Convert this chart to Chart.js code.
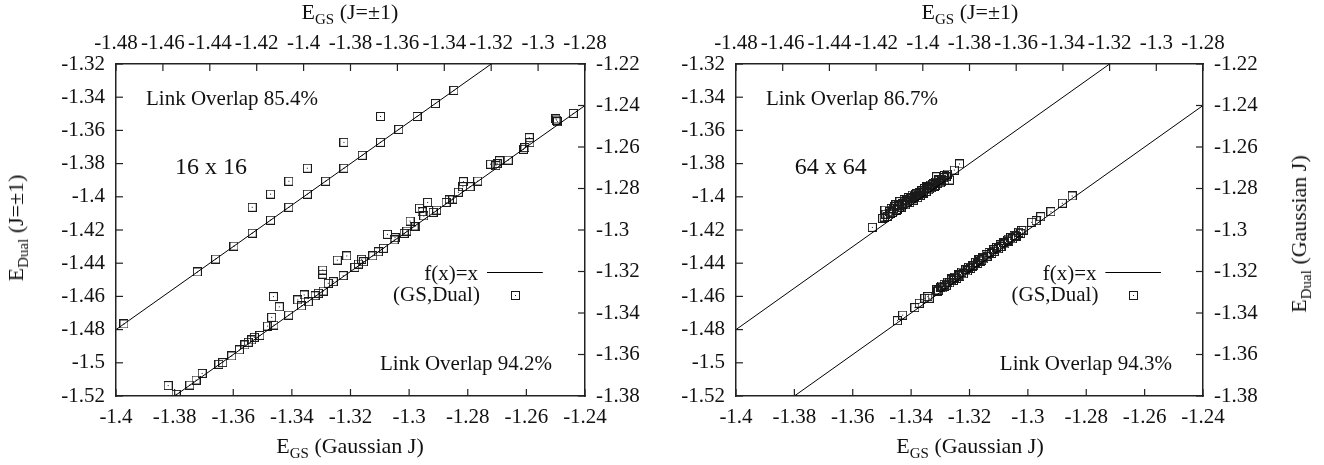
<!DOCTYPE html>
<html>
<head>
<meta charset="utf-8">
<script src="https://cdn.jsdelivr.net/npm/chart.js@4.4.0/dist/chart.umd.min.js"></script>
<style>
  body { margin: 0; background: #fff; }
  #wrap { position: relative; width: 1324px; height: 465px; font-family: "Liberation Serif", serif; color: #111; overflow: hidden; }
  canvas { position: absolute; top: 0; }
  .ttl { position: absolute; font-size: 22px; line-height: 22px; white-space: nowrap; }
  .ttl sub { font-size: 15px; line-height: 0; vertical-align: -5px; }
</style>
</head>
<body>
<div id="wrap">
  <canvas id="chart16" width="662" height="465" style="left:0"></canvas>
  <canvas id="chart64" width="662" height="465" style="left:662px"></canvas>

  <div class="ttl" style="left:350px;top:1px;transform:translateX(-50%)">E<sub>GS</sub> (J=±1)</div>
  <div class="ttl" style="left:350px;top:435px;transform:translateX(-50%)">E<sub>GS</sub> (Gaussian J)</div>
  <div class="ttl" style="left:16px;top:228px;transform:translate(-50%,-50%) rotate(-90deg)">E<sub>Dual</sub> (J=±1)</div>

  <div class="ttl" style="left:970px;top:1px;transform:translateX(-50%)">E<sub>GS</sub> (J=±1)</div>
  <div class="ttl" style="left:970px;top:435px;transform:translateX(-50%)">E<sub>GS</sub> (Gaussian J)</div>
  <div class="ttl" style="left:1299px;top:234px;transform:translate(-50%,-50%) rotate(-90deg)">E<sub>Dual</sub> (Gaussian J)</div>
</div>
<script>
// tick values of the four axes (same for both panels)
const bottomTicks = [-1.4, -1.38, -1.36, -1.34, -1.32, -1.3, -1.28, -1.26, -1.24];
const topTicks = [-1.48, -1.46, -1.44, -1.42, -1.4, -1.38, -1.36, -1.34, -1.32, -1.3, -1.28];
const leftTicks = [-1.52, -1.5, -1.48, -1.46, -1.44, -1.42, -1.4, -1.38, -1.36, -1.34, -1.32];
const rightTicks = [-1.38, -1.36, -1.34, -1.32, -1.3, -1.28, -1.26, -1.24, -1.22];

// f(x)=x, drawn on each pair of axes
const diagPm = [-1.48, -1.28];
const diagGauss = [-1.4, -1.24];

// 16 x 16, J=±1 (top / left axes)
const gs16Pm = [-1.4766, -1.4453, -1.4375, -1.4297, -1.4219, -1.4141, -1.4063, -1.3984, -1.3906, -1.3828,
  -1.375, -1.3672, -1.3594, -1.3516, -1.3438, -1.3359, -1.4219, -1.4141, -1.4063, -1.3984, -1.3828, -1.3672];
const dual16Pm = [-1.4766, -1.4453, -1.4375, -1.4297, -1.4219, -1.4141, -1.4063, -1.3984, -1.3906, -1.3828,
  -1.375, -1.3672, -1.3594, -1.3516, -1.3438, -1.3359, -1.4063, -1.3984, -1.3906, -1.3828, -1.3672, -1.3516];

// 16 x 16, Gaussian J (bottom / right axes)
const gs16Gauss = [-1.3822, -1.3795, -1.3748, -1.3727, -1.3706, -1.3649, -1.3636, -1.3605, -1.3579, -1.3560,
  -1.3549, -1.3537, -1.3528, -1.3509, -1.3483, -1.3469, -1.3461, -1.3463, -1.3443, -1.3411,
  -1.3380, -1.3367, -1.3358, -1.3344, -1.3321, -1.3310, -1.3295, -1.3295, -1.3293, -1.3276,
  -1.3245, -1.3213, -1.3259, -1.3225, -1.3185, -1.3173, -1.3156, -1.3162, -1.3124, -1.3105,
  -1.3088, -1.3074, -1.3048, -1.3051, -1.3017, -1.3008, -1.2997, -1.2983, -1.2978, -1.2965,
  -1.2956, -1.2950, -1.2937, -1.2918, -1.2906, -1.2874, -1.2863, -1.2851, -1.2832, -1.2815,
  -1.2817, -1.2792, -1.2766, -1.2722, -1.2704, -1.2700, -1.2692, -1.2662, -1.2610, -1.2605,
  -1.2590, -1.2588, -1.2499, -1.2494, -1.2497, -1.2440];
const dual16Gauss = [-1.3750, -1.3792, -1.3747, -1.3723, -1.3691, -1.3647, -1.3639, -1.3607, -1.3578, -1.3554,
  -1.3541, -1.3530, -1.3517, -1.3508, -1.3463, -1.3421, -1.3458, -1.3321, -1.3370, -1.3410,
  -1.3337, -1.3366, -1.3313, -1.3346, -1.3317, -1.3305, -1.3213, -1.3193, -1.3294, -1.3257,
  -1.3145, -1.3125, -1.3249, -1.3220, -1.3180, -1.3164, -1.3153, -1.3141, -1.3125, -1.3105,
  -1.3088, -1.3021, -1.3037, -1.3048, -1.3016, -1.3005, -1.2957, -1.2984, -1.2981, -1.2895,
  -1.2912, -1.2932, -1.2867, -1.2915, -1.2904, -1.2867, -1.2855, -1.2851, -1.2818, -1.2767,
  -1.2791, -1.2791, -1.2764, -1.2683, -1.2690, -1.2680, -1.2666, -1.2663, -1.2611, -1.2603,
  -1.2555, -1.2579, -1.2465, -1.2478, -1.2470, -1.2438];

// 64 x 64, J=±1 (top / left axes)
const gs64Pm = [-1.4216, -1.4172, -1.4165, -1.4162, -1.4158, -1.4150, -1.4142, -1.4135, -1.4128, -1.4120,
  -1.4115, -1.4110, -1.4104, -1.4098, -1.4092, -1.4085, -1.4080, -1.4074, -1.4068, -1.4062,
  -1.4056, -1.4050, -1.4045, -1.4040, -1.4034, -1.4028, -1.4022, -1.4016, -1.4010, -1.4004,
  -1.3998, -1.3992, -1.3986, -1.3980, -1.3974, -1.3968, -1.3962, -1.3956, -1.3950, -1.3944,
  -1.3941, -1.3936, -1.3930, -1.3924, -1.3918, -1.3912, -1.3906, -1.3900, -1.3895, -1.3886,
  -1.3865, -1.3843,
  -1.4138, -1.4126, -1.4112, -1.4101, -1.4089, -1.4077, -1.4066, -1.4053, -1.4042, -1.4031,
  -1.4019, -1.4007, -1.3995, -1.3983, -1.3971, -1.3959, -1.3947, -1.3933, -1.3921, -1.3909];
const dual64Pm = [-1.4184, -1.4130, -1.4122, -1.4080, -1.4105, -1.4118, -1.4090, -1.4070, -1.4095, -1.4060,
  -1.4049, -1.4078, -1.4055, -1.4029, -1.4062, -1.4040, -1.4018, -1.4048, -1.4022, -1.4005,
  -1.4035, -1.4010, -1.3990, -1.4020, -1.3998, -1.3982, -1.4005, -1.3975, -1.3990, -1.3962,
  -1.3978, -1.3950, -1.3968, -1.3945, -1.3958, -1.3930, -1.3945, -1.3922, -1.3936, -1.3912,
  -1.3879, -1.3920, -1.3900, -1.3915, -1.3895, -1.3885, -1.3903, -1.3880, -1.3863, -1.3899,
  -1.3839, -1.3802,
  -1.4098, -1.4072, -1.4080, -1.4052, -1.4044, -1.4030, -1.4036, -1.4002, -1.4012, -1.3985,
  -1.3994, -1.3966, -1.3972, -1.3940, -1.3952, -1.3925, -1.3932, -1.3898, -1.3909, -1.3872];

// 64 x 64, Gaussian J (bottom / right axes)
const gs64Gauss = [-1.3447, -1.3429, -1.3387, -1.3372, -1.3353, -1.3343, -1.3338, -1.3312, -1.3306, -1.3299,
  -1.3291, -1.3287, -1.3280, -1.3274, -1.3268, -1.3263, -1.3255, -1.3251, -1.3244, -1.3239,
  -1.3233, -1.3226, -1.3221, -1.3215, -1.3207, -1.3203, -1.3196, -1.3190, -1.3186, -1.3179,
  -1.3172, -1.3169, -1.3161, -1.3155, -1.3151, -1.3143, -1.3137, -1.3133, -1.3124, -1.3119,
  -1.3115, -1.3107, -1.3101, -1.3095, -1.3091, -1.3083, -1.3079, -1.3070, -1.3066, -1.3059,
  -1.3053, -1.3047, -1.3039, -1.3031, -1.3025, -1.3016, -1.2987, -1.2972, -1.2956, -1.2921,
  -1.2882, -1.2848,
  -1.3309, -1.3284, -1.3260, -1.3236, -1.3212, -1.3189, -1.3165, -1.3140, -1.3117, -1.3093,
  -1.3068, -1.3044, -1.3021, -1.3296, -1.3158];
const dual64Gauss = [-1.3437, -1.3410, -1.3374, -1.3353, -1.3329, -1.3321, -1.3329, -1.3289, -1.3291, -1.3276,
  -1.3279, -1.3262, -1.3268, -1.3251, -1.3255, -1.3240, -1.3243, -1.3228, -1.3233, -1.3215,
  -1.3222, -1.3203, -1.3211, -1.3192, -1.3197, -1.3180, -1.3185, -1.3169, -1.3172, -1.3156,
  -1.3161, -1.3144, -1.3150, -1.3132, -1.3139, -1.3120, -1.3126, -1.3108, -1.3113, -1.3096,
  -1.3103, -1.3084, -1.3090, -1.3072, -1.3079, -1.3060, -1.3067, -1.3049, -1.3055, -1.3037,
  -1.3042, -1.3026, -1.3029, -1.3011, -1.3016, -1.3000, -1.2963, -1.2955, -1.2936, -1.2912,
  -1.2871, -1.2836,
  -1.3296, -1.3270, -1.3236, -1.3220, -1.3188, -1.3174, -1.3141, -1.3127, -1.3093, -1.3080,
  -1.3044, -1.3030, -1.3002, -1.3270, -1.3145];

const INK = '#111';
const FONT = '"Liberation Serif", "Times New Roman", serif';

Chart.defaults.font.family = FONT;
Chart.defaults.font.size = 21;
Chart.defaults.color = INK;

// gnuplot-like open box with a dot in the middle
const mark = document.createElement('canvas');
mark.width = 9;
mark.height = 9;
(function () {
  const c = mark.getContext('2d');
  c.strokeStyle = '#1a1a1a';
  c.lineWidth = 1;
  c.strokeRect(0.5, 0.5, 8, 8);
  c.fillStyle = '#1a1a1a';
  c.fillRect(4, 4, 1, 1);
})();

function pairs(xs, ys) {
  return xs.map((x, i) => ({ x: x, y: ys[i] }));
}

function fmt(v) {
  return String(Number(v.toFixed(2)));
}

function axis(pos, min, max, ticks, size) {
  return {
    type: 'linear',
    position: pos,
    min: min,
    max: max,
    afterBuildTicks: s => { s.ticks = ticks.map(v => ({ value: v })); },
    afterFit: s => {
      if (pos === 'left' || pos === 'right') s.width = size;
      else s.height = size;
    },
    ticks: {
      autoSkip: false,
      maxRotation: 0,
      padding: pos === 'top' ? 8 : (pos === 'bottom' ? 9 : 11),
      callback: v => fmt(v)
    },
    grid: { display: false, drawTicks: false },
    border: { display: true, color: '#222', width: 1.5 }
  };
}

// inward tick marks on all four sides + text labels + key
const framePlugin = {
  id: 'frame',
  afterDraw(chart, args, opts) {
    const ctx = chart.ctx;
    const a = chart.chartArea;
    ctx.save();
    ctx.strokeStyle = '#222';
    ctx.lineWidth = 1.2;
    Object.values(chart.scales).forEach(s => {
      s.ticks.forEach(t => {
        const p = s.getPixelForValue(t.value);
        ctx.beginPath();
        if (s.position === 'bottom') { ctx.moveTo(p, a.bottom); ctx.lineTo(p, a.bottom - 7); }
        if (s.position === 'top') { ctx.moveTo(p, a.top); ctx.lineTo(p, a.top + 7); }
        if (s.position === 'left') { ctx.moveTo(a.left, p); ctx.lineTo(a.left + 7, p); }
        if (s.position === 'right') { ctx.moveTo(a.right, p); ctx.lineTo(a.right - 7, p); }
        ctx.stroke();
      });
    });

    const gx = f => a.left + f * a.width;
    const gy = f => a.top + f * a.height;

    ctx.fillStyle = INK;
    ctx.textBaseline = 'alphabetic';
    opts.labels.forEach(l => {
      ctx.font = l.size + 'px ' + FONT;
      ctx.textAlign = l.align || 'left';
      ctx.fillText(l.text, gx(l.gx), gy(l.gy));
    });

    // key
    ctx.font = '21px ' + FONT;
    ctx.textAlign = 'right';
    ctx.fillText('f(x)=x', gx(0.772), gy(0.651));
    ctx.fillText('(GS,Dual)', gx(0.776), gy(0.714));
    ctx.strokeStyle = '#000';
    ctx.lineWidth = 1;
    ctx.beginPath();
    ctx.moveTo(gx(0.791), Math.round(gy(0.627)) + 0.5);
    ctx.lineTo(gx(0.910), Math.round(gy(0.627)) + 0.5);
    ctx.stroke();
    ctx.drawImage(mark, Math.round(gx(0.851)) - 4, Math.round(gy(0.696)) - 4);
    ctx.restore();
  }
};

function makeChart(id, pm, gauss, sizes, labels) {
  return new Chart(document.getElementById(id), {
    type: 'scatter',
    data: {
      datasets: [
        {
          data: pairs(diagPm, diagPm), xAxisID: 'xTop', yAxisID: 'yLeft',
          showLine: true, pointRadius: 0, borderColor: '#000', borderWidth: 1
        },
        {
          data: pairs(diagGauss, diagGauss), xAxisID: 'xBottom', yAxisID: 'yRight',
          showLine: true, pointRadius: 0, borderColor: '#000', borderWidth: 1
        },
        {
          data: pm, xAxisID: 'xTop', yAxisID: 'yLeft',
          pointStyle: mark, pointRadius: 4
        },
        {
          data: gauss, xAxisID: 'xBottom', yAxisID: 'yRight',
          pointStyle: mark, pointRadius: 4
        }
      ]
    },
    options: {
      responsive: false,
      animation: false,
      layout: { padding: 0 },
      plugins: {
        legend: { display: false },
        tooltip: { enabled: false },
        frame: { labels: labels }
      },
      scales: {
        xBottom: axis('bottom', -1.4, -1.24, bottomTicks, sizes.bottom),
        xTop: axis('top', -1.48, -1.28, topTicks, sizes.top),
        yLeft: axis('left', -1.52, -1.32, leftTicks, sizes.left),
        yRight: axis('right', -1.38, -1.22, rightTicks, sizes.right)
      }
    },
    plugins: [framePlugin]
  });
}

makeChart('chart16', pairs(gs16Pm, dual16Pm), pairs(gs16Gauss, dual16Gauss),
  { left: 116, right: 77, top: 64, bottom: 69 },
  [
    { text: 'Link Overlap 85.4%', gx: 0.064, gy: 0.1235, size: 21 },
    { text: '16 x 16', gx: 0.126, gy: 0.331, size: 24 },
    { text: 'Link Overlap 94.2%', gx: 0.563, gy: 0.922, size: 21 }
  ]);

makeChart('chart64', pairs(gs64Pm, dual64Pm), pairs(gs64Gauss, dual64Gauss),
  { left: 74, right: 121, top: 64, bottom: 69 },
  [
    { text: 'Link Overlap 86.7%', gx: 0.064, gy: 0.1235, size: 21 },
    { text: '64 x 64', gx: 0.126, gy: 0.331, size: 24 },
    { text: 'Link Overlap 94.3%', gx: 0.565, gy: 0.922, size: 21 }
  ]);
</script>
</body>
</html>
